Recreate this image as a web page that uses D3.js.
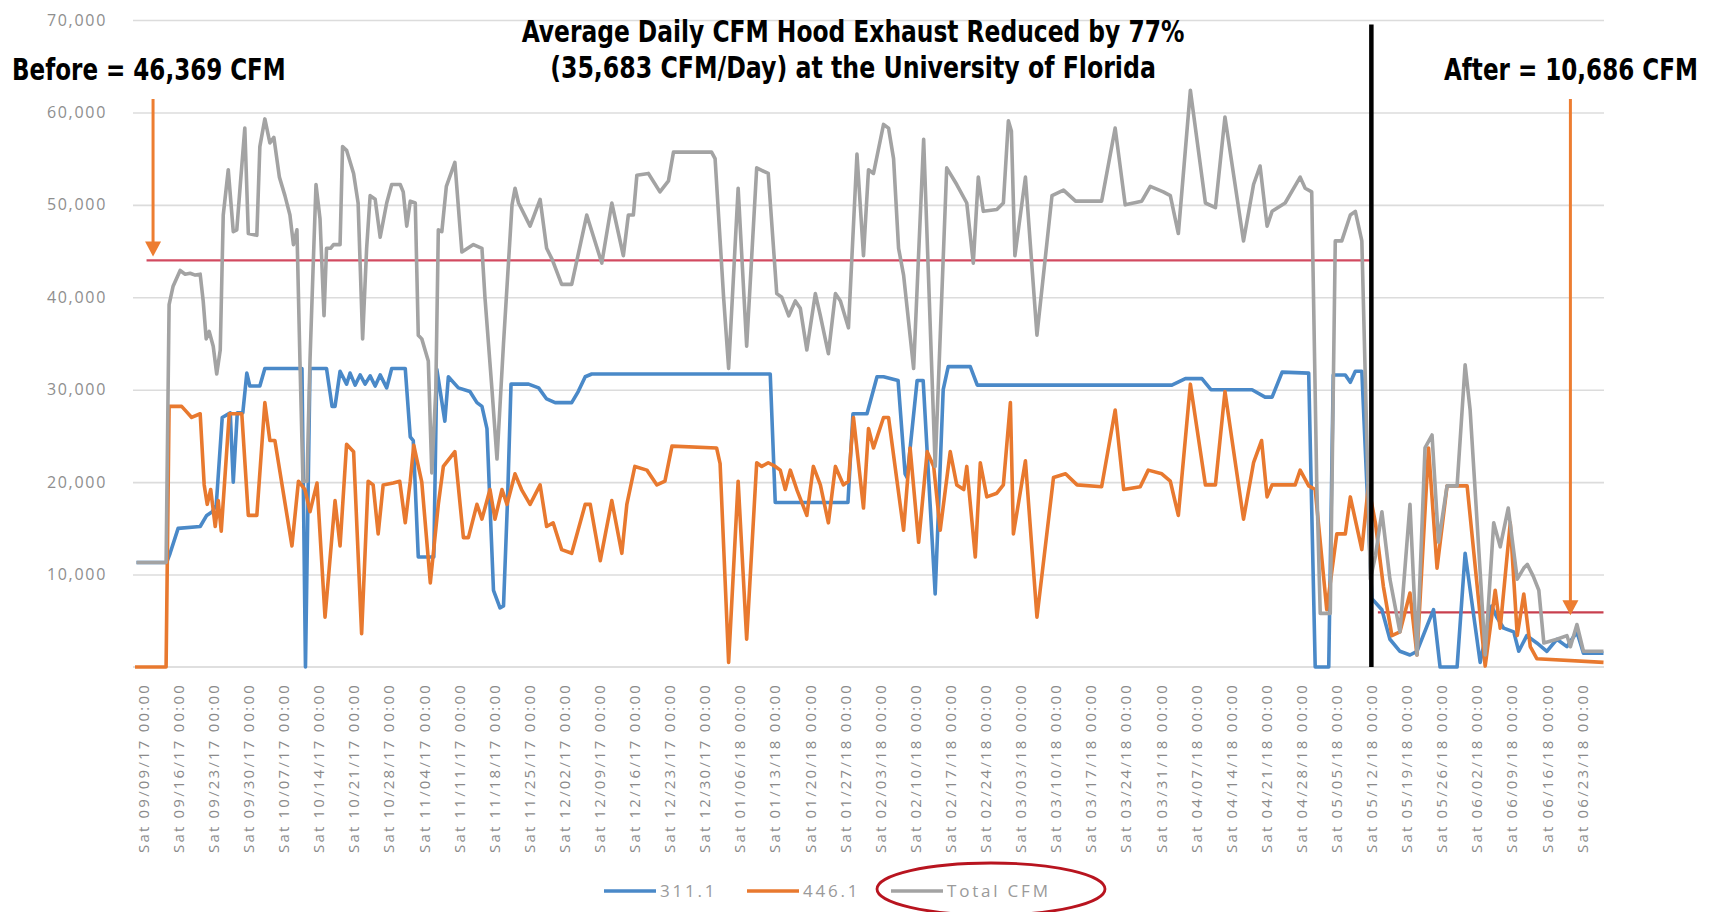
<!DOCTYPE html>
<html>
<head>
<meta charset="utf-8">
<script src="https://d3js.org/d3.v7.min.js"></script>
<style>
  body { margin: 0; background: #fff; }
  svg { display: block; }
</style>
</head>
<body>
<svg id="drawing_region"></svg>
<script>
// weekly category labels on the x axis (day 0 = Sat 09/09/17)
const dayLabels = [
    '09/09/17','09/16/17','09/23/17','09/30/17','10/07/17','10/14/17','10/21/17','10/28/17',
    '11/04/17','11/11/17','11/18/17','11/25/17','12/02/17','12/09/17','12/16/17','12/23/17',
    '12/30/17','01/06/18','01/13/18','01/20/18','01/27/18','02/03/18','02/10/18','02/17/18',
    '02/24/18','03/03/18','03/10/18','03/17/18','03/24/18','03/31/18','04/07/18','04/14/18',
    '04/21/18','04/28/18','05/05/18','05/12/18','05/19/18','05/26/18','06/02/18','06/09/18',
    '06/16/18','06/23/18'
];
const yTicks = [10000, 20000, 30000, 40000, 50000, 60000, 70000];
const seriesNames = ['311.1', '446.1', 'Total CFM'];

// [day, CFM]
const hood311 = [
    [-1.3,11300],[4.7,11300],[5.4,12300],[7.0,15000],[11.4,15200],[12.7,16400],[13.8,16800],[14.6,17500],
    [15.8,27000],[17.4,27500],[18.0,20000],[18.8,27500],[19.9,27500],[20.7,31800],[21.3,30400],[23.3,30400],
    [24.3,32300],[31.7,32300],[32.4,0],[33.3,32300],[36.6,32300],[37.7,28200],[38.3,28200],[39.3,32000],
    [40.6,30600],[41.3,31800],[42.3,30500],[43.3,31600],[44.3,30600],[45.3,31500],[46.3,30400],[47.3,31600],
    [48.6,30200],[49.6,32300],[52.3,32300],[53.3,24900],[53.9,24500],[54.9,11900],[58.0,11900],[58.6,32200],
    [60.2,26600],[60.9,31400],[62.9,30200],[65.2,29800],[66.6,28600],[67.6,28200],[68.6,25800],[69.2,17600],
    [69.9,8300],[71.2,6400],[71.9,6600],[72.7,18000],[73.4,30600],[76.9,30600],[78.9,30200],[80.5,29000],
    [82.2,28600],[85.5,28600],[86.8,29800],[88.2,31400],[89.5,31700],[125.1,31700],[126.1,17800],[140.6,17800],
    [141.6,27400],[144.4,27400],[146.4,31400],[147.7,31400],[150.6,31000],[152.0,20900],[152.4,20500],[154.4,31000],
    [155.6,31000],[158.0,7900],[159.6,30000],[160.6,32500],[165.0,32500],[166.4,30500],[205.2,30500],[207.9,31200],
    [211.2,31200],[213.0,30000],[221.2,30000],[223.8,29200],[225.2,29200],[227.2,31900],[232.5,31800],[233.8,0],
    [236.5,0],[237.4,31600],[239.8,31600],[240.8,30800],[241.8,32000],[243.1,32000],[245.1,7400],[247.1,6200],
    [248.7,3000],[250.7,1700],[252.7,1300],[254.1,1700],[257.4,6200],[258.7,0],[262.1,0],[263.7,12300],
    [266.7,500],[269.0,6600],[270.0,5400],[271.4,4200],[273.4,3800],[274.4,1700],[276.0,3400],[278.0,2600],
    [280.0,1700],[282.0,3000],[284.0,2200],[286.0,3800],[287.3,1500],[291.3,1500]
];
const hood446 = [
    [-1.6,0],[4.6,0],[5.2,28200],[7.7,28200],[8.7,27600],[9.7,27000],[11.4,27400],[12.2,19700],
    [12.8,17600],[13.5,19200],[14.4,15200],[15.0,18000],[15.6,14700],[17.2,27400],[19.7,27400],[21.0,16400],
    [22.7,16400],[24.3,28600],[25.3,24500],[26.3,24500],[29.7,13100],[31.0,20100],[32.3,19200],[33.3,16800],
    [34.7,19900],[36.3,5400],[38.3,18000],[39.3,13100],[40.6,24100],[42.0,23300],[43.6,3600],[44.9,20100],
    [45.9,19700],[46.9,14400],[47.9,19700],[49.9,19900],[51.2,20100],[52.3,15600],[53.3,20100],[54.0,24000],
    [55.6,20000],[57.3,9100],[58.9,17600],[59.9,21700],[62.2,23300],[63.9,14000],[64.9,14000],[66.6,17600],
    [67.6,16000],[69.2,19200],[70.2,16000],[71.6,19200],[72.6,17600],[74.2,20900],[75.5,19200],[77.2,17600],
    [79.2,19700],[80.5,15200],[81.8,15600],[83.5,12700],[85.5,12300],[88.2,17600],[89.2,17600],[91.2,11500],
    [93.5,18000],[95.5,12300],[96.5,17600],[98.1,21700],[100.5,21300],[102.5,19700],[104.1,20100],[105.5,23900],
    [114.4,23700],[115.1,22000],[116.8,500],[118.7,20100],[120.4,3000],[122.4,22100],[123.4,21700],[124.7,22100],
    [126.1,21700],[127.1,21300],[128.1,19200],[129.1,21300],[130.4,19200],[132.4,16400],[133.7,21700],[135.1,19700],
    [136.7,15600],[138.1,21700],[139.7,19700],[140.7,20100],[141.7,27000],[143.7,17200],[144.7,25800],[145.7,23700],
    [147.7,27000],[148.7,27000],[150.0,21700],[151.7,14800],[153.0,23700],[154.7,13500],[156.4,23300],[157.7,21700],
    [159.0,14800],[161.0,23300],[162.3,19700],[163.7,19200],[164.3,21700],[166.0,11900],[167.0,22100],[168.3,18400],
    [170.3,18800],[171.6,19700],[173.0,28600],[173.6,14400],[176.0,22300],[178.3,5400],[181.6,20500],[184.0,20900],
    [186.3,19700],[191.2,19500],[193.9,27800],[195.6,19200],[198.9,19500],[200.5,21300],[203.2,20900],[204.9,20100],
    [206.5,16400],[208.9,30600],[211.9,19700],[213.9,19700],[215.8,29800],[219.5,16000],[221.5,22100],[223.1,24500],
    [224.2,18400],[225.2,19700],[229.8,19700],[230.8,21300],[232.5,19600],[233.8,19200],[236.1,6200],[238.1,14400],
    [239.8,14400],[240.8,18400],[243.1,12700],[244.4,19600],[245.8,15600],[247.4,8700],[249.1,3400],[250.7,3800],
    [252.7,8000],[254.1,1300],[256.4,23700],[258.1,10700],[260.1,19600],[264.1,19600],[267.7,100],[269.7,8300],
    [270.7,4200],[272.7,15600],[274.1,3400],[275.4,7900],[276.7,2200],[278.0,900],[291.3,500]
];
const totalCfm = [
    [-1.3,11300],[4.6,11300],[5.2,39200],[6.0,41200],[7.4,42900],[8.4,42500],[9.4,42600],[10.4,42400],
    [11.4,42500],[12.0,39600],[12.6,35500],[13.2,36300],[14.0,34700],[14.7,31700],[15.4,34300],[16.0,48900],
    [17.0,53800],[18.0,47100],[18.7,47300],[19.4,52200],[20.3,58300],[21.0,46900],[22.7,46700],[23.3,56300],
    [24.3,59300],[25.3,56700],[26.1,57300],[27.2,53000],[28.3,51000],[29.3,48900],[30.0,45700],[30.7,47300],
    [31.3,33100],[31.9,20100],[32.7,20100],[33.3,33100],[33.9,42800],[34.5,52200],[35.3,48500],[36.1,38000],
    [36.6,45300],[37.4,45300],[38.0,45700],[39.3,45700],[39.8,56300],[40.6,55900],[42.0,53400],[42.9,50200],
    [43.8,35500],[44.6,45300],[45.3,51000],[46.3,50600],[47.3,46500],[48.6,50200],[49.6,52200],[51.3,52200],
    [51.9,51400],[52.6,47700],[53.3,50400],[54.3,50200],[54.9,35900],[55.6,35500],[56.9,33100],[57.6,21000],
    [58.4,30000],[58.9,47300],[59.6,47100],[60.5,52000],[62.2,54600],[63.6,44900],[65.9,45700],[67.6,45300],
    [68.2,40000],[69.6,30000],[70.6,22500],[71.9,35000],[73.6,50000],[74.2,51800],[74.9,50200],[77.2,47700],
    [79.2,50600],[80.5,45300],[81.6,44100],[83.5,41400],[85.5,41400],[88.5,48900],[91.5,43700],[93.5,50200],
    [95.8,44500],[96.8,48900],[97.8,48900],[98.5,53200],[100.8,53400],[103.1,51400],[104.8,52600],[105.8,55700],
    [113.4,55700],[114.1,55000],[115.8,40000],[116.8,32300],[118.7,51800],[120.4,34700],[122.4,54000],[124.7,53400],
    [126.4,40400],[127.4,40000],[128.8,38000],[130.1,39600],[131.1,38800],[132.4,34300],[134.1,40400],[135.1,38000],
    [136.7,33900],[138.1,40400],[139.1,39600],[140.7,36700],[142.4,55500],[143.7,44500],[144.7,53800],[145.7,53400],
    [147.7,58700],[148.7,58300],[149.7,55000],[150.7,45300],[151.7,42400],[153.7,32300],[155.7,57100],[158.0,21700],
    [160.3,54000],[162.3,52200],[164.3,50200],[165.6,43700],[166.6,53000],[167.6,49300],[170.3,49500],[171.6,50200],
    [172.6,59100],[173.2,58000],[173.9,44500],[176.0,53000],[178.3,35900],[181.3,51000],[183.6,51600],[186.0,50400],
    [191.2,50400],[193.9,58300],[195.9,50000],[199.2,50400],[200.9,52000],[203.5,51400],[204.9,51000],[206.5,46900],
    [208.9,62400],[211.9,50200],[213.9,49700],[215.8,59500],[219.5,46100],[221.5,52200],[222.8,54200],[224.2,47700],
    [225.2,49300],[227.8,50200],[230.8,53000],[231.8,51800],[233.1,51400],[234.1,20000],[234.8,5800],[236.8,5800],
    [237.8,46100],[239.1,46100],[240.8,48900],[241.8,49300],[243.1,46100],[244.8,9500],[245.8,12000],[247.1,16800],
    [248.7,9500],[250.7,3800],[252.7,17600],[254.1,1300],[255.7,23700],[257.1,25100],[258.4,13500],[260.1,19600],
    [262.1,19600],[263.7,32700],[264.7,27800],[266.7,10300],[267.7,1300],[269.4,15600],[270.7,13000],[272.3,17200],
    [274.1,9500],[275.4,10700],[276.1,11100],[277.3,9800],[278.4,8300],[279.4,2600],[282.0,3000],[284.0,3400],
    [284.7,2200],[286.0,4600],[287.3,1700],[291.3,1700]
];

// annotation values (CFM / day index)
const beforeLine = [0.7, 244.8, 44000];
const afterLine = [246.3, 291.3, 5900];
const switchDay = 245.0;
const arrowDays = [2.0, 284.7];
const arrowTips = [44400, 5600];
const titleLines = ['Average Daily CFM Hood Exhaust Reduced by 77%', '(35,683 CFM/Day) at the University of Florida'];
const noteTexts = ['Before = 46,369 CFM', 'After = 10,686 CFM'];

const config = {
    parent: '#drawing_region',
    width: 1715,
    height: 912,
    plot: {left: 133, right: 1604, top: 20, bottom: 667},
    xDomain: [-2, 291.4],
    colors: ['#4a89c8', '#e8792f', '#a3a3a3']
};

class CfmChart {
    constructor(config) {
        this.config = config;
        this.init();
    }

    init() {
        let self = this;
        let p = self.config.plot;
        self.svg = d3.select(self.config.parent)
            .attr('width', self.config.width)
            .attr('height', self.config.height);

        self.x = d3.scaleLinear().domain(self.config.xDomain).range([p.left, p.right]);
        self.y = d3.scaleLinear().domain([0, 70000]).range([p.bottom, p.top]);
        self.line = d3.line().x(d => self.x(d[0])).y(d => self.y(d[1]));
    }

    render() {
        let self = this;
        let p = self.config.plot;
        let labelFont = '"Open Sans", sans-serif';

        // gridlines + y labels
        let yAxis = self.svg.append('g')
            .attr('transform', `translate(${p.left},0)`)
            .call(d3.axisLeft(self.y).tickValues(yTicks)
                .tickSize(-(p.right - p.left))
                .tickPadding(26)
                .tickFormat(d3.format(',')));
        yAxis.select('.domain').remove();
        yAxis.selectAll('line').attr('stroke', '#dcdcdc').attr('stroke-width', 1.6);
        yAxis.selectAll('text')
            .attr('fill', '#8e8e8e')
            .style('font-family', labelFont)
            .style('font-size', '16px')
            .style('letter-spacing', '1.7px');

        // x axis
        let xAxis = self.svg.append('g')
            .attr('transform', `translate(0,${p.bottom})`)
            .call(d3.axisBottom(self.x)
                .tickValues(dayLabels.map((_, i) => i * 7))
                .tickSize(0)
                .tickFormat((d, i) => 'Sat ' + dayLabels[i] + ' 00:00'));
        xAxis.select('.domain')
            .attr('d', `M${p.left},0H${p.right}`)
            .attr('stroke', '#d4d4d4').attr('stroke-width', 1.6);
        xAxis.selectAll('text')
            .attr('fill', '#8a8a8a')
            .attr('transform', 'rotate(-90)')
            .attr('text-anchor', 'end')
            .attr('x', -16)
            .attr('y', 0)
            .attr('dy', '0.35em')
            .style('font-family', labelFont)
            .style('font-size', '15px')
            .style('letter-spacing', '2.2px');

        // average lines
        self.svg.append('line')
            .attr('x1', self.x(beforeLine[0])).attr('x2', self.x(beforeLine[1]))
            .attr('y1', self.y(beforeLine[2])).attr('y2', self.y(beforeLine[2]))
            .attr('stroke', '#d24a60').attr('stroke-width', 2.2);
        self.svg.append('line')
            .attr('x1', self.x(afterLine[0])).attr('x2', self.x(afterLine[1]))
            .attr('y1', self.y(afterLine[2])).attr('y2', self.y(afterLine[2]))
            .attr('stroke', '#c8404f').attr('stroke-width', 2.2);

        // series
        [hood311, hood446, totalCfm].forEach((s, i) => {
            self.svg.append('path')
                .datum(s)
                .attr('d', self.line)
                .attr('fill', 'none')
                .attr('stroke', self.config.colors[i])
                .attr('stroke-width', 3.6)
                .attr('stroke-linejoin', 'round');
        });

        // before / after divider
        self.svg.append('line')
            .attr('x1', self.x(switchDay)).attr('x2', self.x(switchDay))
            .attr('y1', self.y(69500)).attr('y2', self.y(0))
            .attr('stroke', '#000').attr('stroke-width', 4.5);

        // arrows
        arrowDays.forEach((d, i) => {
            let ax = self.x(d), tip = self.y(arrowTips[i]), top = 99;
            self.svg.append('line')
                .attr('x1', ax).attr('x2', ax).attr('y1', top).attr('y2', tip - 10)
                .attr('stroke', '#ed7d31').attr('stroke-width', 3);
            self.svg.append('path')
                .attr('d', `M${ax - 8},${tip - 15}L${ax + 8},${tip - 15}L${ax},${tip}Z`)
                .attr('fill', '#ed7d31');
        });

        // titles: condensed bold, squeezed horizontally to the measured widths
        let boldFont = '"Liberation Sans Narrow", "DejaVu Sans Condensed", "Roboto Condensed", sans-serif';
        let titleSpecs = [
            {text: titleLines[0], x: 853, y: 42, w: 663, anchor: 'middle'},
            {text: titleLines[1], x: 853, y: 78, w: 606, anchor: 'middle'},
            {text: noteTexts[0], x: 12, y: 80, w: 274, anchor: 'start'},
            {text: noteTexts[1], x: 1444, y: 80, w: 254, anchor: 'start'}
        ];
        self.svg.selectAll('text.title')
            .data(titleSpecs)
            .enter()
            .append('text')
            .attr('class', 'title')
            .attr('x', 0)
            .attr('y', 0)
            .attr('text-anchor', d => d.anchor)
            .style('font-family', boldFont)
            .style('font-weight', 'bold')
            .style('font-size', '30px')
            .attr('fill', '#000')
            .text(d => d.text)
            .attr('transform', function(d) {
                let w0 = this.getComputedTextLength();
                return `translate(${d.x},${d.y}) scale(${d.w / w0},1)`;
            });

        // legend
        let legendX = [604, 747, 891];
        let legend = self.svg.append('g');
        seriesNames.forEach((name, i) => {
            legend.append('line')
                .attr('x1', legendX[i]).attr('x2', legendX[i] + 52)
                .attr('y1', 891).attr('y2', 891)
                .attr('stroke', self.config.colors[i]).attr('stroke-width', 3.4);
            legend.append('text')
                .attr('x', legendX[i] + 56)
                .attr('y', 891)
                .attr('dy', '0.35em')
                .attr('fill', '#9a9a9a')
                .style('font-family', labelFont)
                .style('font-size', '17px')
                .style('letter-spacing', '2.8px')
                .text(name);
        });
        legend.append('ellipse')
            .attr('cx', 991).attr('cy', 889)
            .attr('rx', 114).attr('ry', 26)
            .attr('fill', 'none')
            .attr('stroke', '#b8141f')
            .attr('stroke-width', 2.8);
    }
}

const chart = new CfmChart(config);
chart.render();
</script>
</body>
</html>
